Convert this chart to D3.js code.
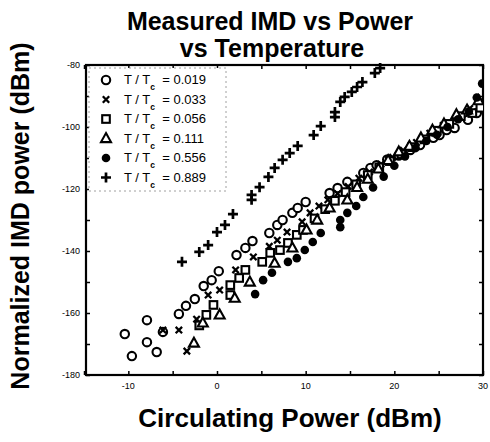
<!DOCTYPE html>
<html>
<head>
<meta charset="utf-8">
<script src="https://cdn.jsdelivr.net/npm/d3@7"></script>
<style>
  body { margin: 0; background: #fff; }
  svg { font-family: "Liberation Sans", Arial, Helvetica, sans-serif; }
</style>
</head>
<body>
<svg id="chart" width="490" height="442"></svg>
<script>
// legend values
const ratios = ["0.019", "0.033", "0.056", "0.111", "0.556", "0.889"];
const markers = ["circle", "times", "square", "triangle", "dot", "plus"];

// x ticks / y ticks
const xTickLabels = [-10, 0, 10, 20, 30];
const yTickLabels = [-80, -100, -120, -140, -160, -180];

// series: [circulating power dBm, IMD dBm]
const s019 = [[-10.4,-166.8],[-9.6,-173.9],[-7.9,-162.3],[-7.9,-169.4],[-6.8,-172.6],[-6.1,-166.1],[-4.3,-160.3],[-3.5,-157.7],[-2.5,-155.5],[-1.5,-151.3],[-0.6,-149.4],[0.2,-146.5],[2.2,-141.3],[3.2,-139.0],[4.0,-136.8],[5.9,-134.2],[6.8,-131.6],[7.4,-130.0],[8.5,-127.7],[9.1,-126.1],[10.0,-124.2],[12.7,-121.3],[13.6,-119.7],[14.7,-117.7],[16.5,-114.8],[17.3,-113.2],[18.0,-112.3],[19.2,-110.5],[20.5,-109.2],[21.8,-107.4],[22.9,-105.8],[24.4,-103.5],[25.1,-102.6],[25.9,-101.0],[26.8,-100.3],[28.3,-97.7],[29.3,-95.5],[29.8,-92.5]];
const s033 = [[-6.1,-165.5],[-4.3,-165.5],[-3.4,-172.3],[-2.3,-162.0],[-1.0,-154.2],[0.3,-152.6],[2.1,-146.1],[4.1,-141.9],[5.9,-138.5],[6.8,-136.5],[7.9,-133.9],[9.6,-130.6],[10.5,-127.7],[11.5,-125.5],[12.5,-123.5],[13.6,-121.5],[14.8,-119.2],[16.0,-116.5],[17.2,-114.5],[18.5,-112.0],[19.8,-109.8],[21.0,-107.5],[22.5,-105.0],[24.0,-102.0],[25.5,-99.5],[27.0,-97.0],[28.5,-94.0],[29.6,-92.0]];
const s056 = [[-2.0,-164.0],[-1.2,-160.6],[-0.4,-157.4],[1.5,-154.2],[1.5,-151.0],[2.5,-148.7],[3.2,-146.1],[5.1,-143.5],[6.0,-140.6],[7.1,-139.7],[8.0,-137.4],[9.0,-134.8],[9.7,-133.2],[11.0,-129.5],[12.2,-126.5],[13.3,-123.8],[14.5,-121.0],[15.7,-118.5],[17.0,-115.5],[18.3,-113.0],[19.5,-111.0],[20.8,-108.8],[22.0,-106.5],[23.4,-104.0],[24.8,-101.2],[26.2,-99.0],[27.5,-96.5],[28.8,-95.5],[29.7,-93.8]];
const s111 = [[-2.6,-169.7],[-1.6,-163.2],[0.3,-160.6],[2.0,-155.2],[3.7,-150.0],[6.5,-143.9],[8.5,-139.0],[10.1,-133.2],[11.3,-130.0],[12.7,-126.1],[14.7,-123.5],[15.8,-119.5],[17.0,-116.8],[18.2,-113.5],[19.3,-110.8],[20.5,-108.0],[21.7,-106.2],[23.0,-103.5],[24.3,-101.0],[25.6,-99.0],[27.0,-96.0],[28.2,-94.5],[29.5,-91.5]];
const s556 = [[4.3,-153.9],[5.2,-149.4],[6.2,-147.0],[8.0,-143.5],[9.0,-142.3],[9.9,-139.7],[10.8,-137.1],[11.7,-134.2],[13.9,-130.0],[13.9,-132.3],[14.7,-127.7],[15.7,-125.5],[16.5,-122.6],[17.6,-119.5],[18.8,-116.0],[20.0,-112.5],[21.2,-109.5],[22.4,-106.8],[23.6,-104.5],[24.8,-102.5],[26.0,-100.0],[27.2,-97.5],[28.4,-95.0],[29.3,-90.5],[29.9,-86.0]];
const s889 = [[-3.95,-143.5],[-2.0,-140.3],[-1.0,-138.1],[0.0,-133.9],[0.9,-131.6],[1.8,-128.1],[3.9,-121.9],[3.9,-123.5],[4.8,-119.4],[5.8,-116.1],[6.5,-113.2],[7.4,-110.6],[8.2,-108.4],[9.1,-106.1],[10.9,-102.6],[11.7,-99.7],[13.3,-95.2],[13.3,-96.8],[13.9,-91.9],[14.4,-90.3],[15.2,-88.7],[15.8,-87.1],[16.4,-85.5],[17.8,-82.6],[18.4,-81.0]];

const seriesList = [s019, s033, s056, s111, s556, s889];

const svg = d3.select("#chart");
const plotLeft = 86, plotRight = 483, plotTop = 65, plotBottom = 375;

const x = d3.scaleLinear().domain([-15, 30]).range([84, plotRight]);
const y = d3.scaleLinear().domain([-180, -80]).range([plotBottom, plotTop]);

// marker drawing
function drawMarker(g, type) {
    if (type === "circle") {
        g.append("circle").attr("r", 4.2).attr("fill", "#fff").attr("stroke", "#000").attr("stroke-width", 2.1);
    } else if (type === "times") {
        g.append("path").attr("d", "M-3.2,-3.2L3.2,3.2M-3.2,3.2L3.2,-3.2").attr("stroke", "#000").attr("stroke-width", 2.3);
    } else if (type === "square") {
        g.append("rect").attr("x", -3.8).attr("y", -3.8).attr("width", 7.6).attr("height", 7.6)
            .attr("fill", "#fff").attr("stroke", "#000").attr("stroke-width", 2.1);
    } else if (type === "triangle") {
        g.append("path").attr("d", "M0,-5.4L5,3.6L-5,3.6Z").attr("fill", "#fff").attr("stroke", "#000").attr("stroke-width", 2.1);
    } else if (type === "dot") {
        g.append("circle").attr("r", 4.3).attr("fill", "#000");
    } else if (type === "plus") {
        g.append("path").attr("d", "M-5,0H5M0,-5V5").attr("stroke", "#000").attr("stroke-width", 2.7);
    }
}

// clip so nothing runs past the frame
svg.append("clipPath").attr("id", "clip")
    .append("rect").attr("x", plotLeft).attr("y", plotTop - 4)
    .attr("width", plotRight - plotLeft).attr("height", plotBottom - plotTop + 4);

// axes (ticks inward on all four sides)
const tickLen = 4;
const xAll = d3.range(-15, 31, 5);
const yAll = d3.range(-180, -79, 10);

svg.append("g")
    .attr("transform", "translate(0," + plotBottom + ")")
    .call(d3.axisTop(x).tickValues(xAll).tickSize(tickLen).tickFormat(""))
    .call(g => g.select(".domain").remove());
svg.append("g")
    .attr("transform", "translate(0," + plotTop + ")")
    .call(d3.axisBottom(x).tickValues(xAll).tickSize(tickLen).tickFormat(""))
    .call(g => g.select(".domain").remove());
svg.append("g")
    .attr("transform", "translate(" + plotLeft + ",0)")
    .call(d3.axisRight(y).tickValues(yAll).tickSize(tickLen).tickFormat(""))
    .call(g => g.select(".domain").remove());
svg.append("g")
    .attr("transform", "translate(" + plotRight + ",0)")
    .call(d3.axisLeft(y).tickValues(yAll).tickSize(tickLen).tickFormat(""))
    .call(g => g.select(".domain").remove());
svg.selectAll(".tick line").attr("stroke-width", 1.5);

// tick labels
svg.append("g")
    .selectAll("text")
    .data(xTickLabels)
    .join("text")
    .attr("x", d => x(d))
    .attr("y", plotBottom + 14)
    .attr("text-anchor", "middle")
    .attr("font-size", 9)
    .text(d => d);
svg.append("g")
    .selectAll("text")
    .data(yTickLabels)
    .join("text")
    .attr("x", plotLeft - 6)
    .attr("y", d => y(d) + 3)
    .attr("text-anchor", "end")
    .attr("font-size", 9)
    .text(d => d);

// frame
svg.append("rect")
    .attr("x", plotLeft).attr("y", plotTop)
    .attr("width", plotRight - plotLeft).attr("height", plotBottom - plotTop)
    .attr("fill", "none").attr("stroke", "#000").attr("stroke-width", 2.2);

// data
const plot = svg.append("g").attr("clip-path", "url(#clip)");
seriesList.forEach((series, i) => {
    plot.append("g")
        .selectAll("g")
        .data(series)
        .join("g")
        .attr("transform", d => "translate(" + x(d[0]) + "," + y(d[1]) + ")")
        .each(function () { drawMarker(d3.select(this), markers[i]); });
});

// legend
const legend = svg.append("g");
legend.append("rect")
    .attr("x", 89).attr("y", 68).attr("width", 137).attr("height", 123)
    .attr("fill", "#fff").attr("stroke", "#888").attr("stroke-width", 0.8)
    .attr("stroke-dasharray", "2,3");
ratios.forEach((r, i) => {
    const ry = 80 + i * 19.5;
    const g = legend.append("g").attr("transform", "translate(106," + ry + ")");
    drawMarker(g, markers[i]);
    const t = legend.append("text")
        .attr("x", 124).attr("y", ry + 4)
        .attr("font-size", 13)
        .attr("xml:space", "preserve");
    t.append("tspan").text("T / T");
    t.append("tspan").attr("font-size", 8.5).attr("font-weight", "bold").attr("dy", 6).text("c");
    t.append("tspan").attr("dy", -6).text("  = " + r);
});

// titles
svg.append("text")
    .attr("x", 270).attr("y", 30)
    .attr("text-anchor", "middle")
    .attr("font-size", 25).attr("font-weight", "bold")
    .text("Measured IMD vs Power");
svg.append("text")
    .attr("x", 272).attr("y", 57)
    .attr("text-anchor", "middle")
    .attr("font-size", 25).attr("font-weight", "bold")
    .text("vs Temperature");
svg.append("text")
    .attr("transform", "translate(29,216) rotate(-90)")
    .attr("text-anchor", "middle")
    .attr("font-size", 25).attr("font-weight", "bold")
    .text("Normalized IMD power (dBm)");
svg.append("text")
    .attr("x", 290).attr("y", 427)
    .attr("text-anchor", "middle")
    .attr("font-size", 26).attr("font-weight", "bold")
    .text("Circulating Power (dBm)");
</script>
</body>
</html>
